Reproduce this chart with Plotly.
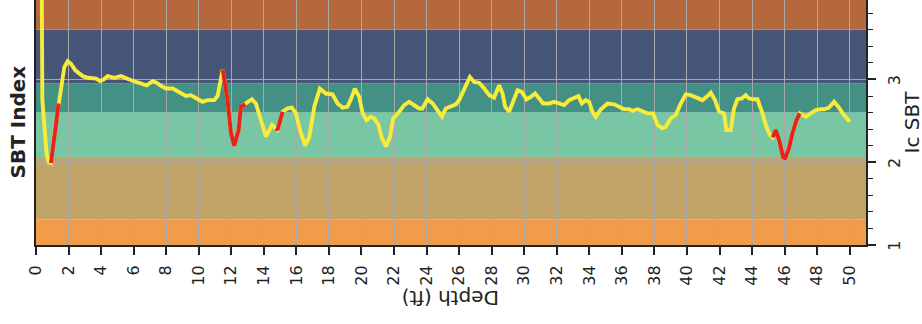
import plotly.graph_objects as go

depth = [0.34, 0.39, 0.55, 0.65, 0.78, 0.92, 1.13, 1.39, 1.74, 1.95, 2.15, 2.42, 2.87, 3.2, 3.48, 3.69, 3.93, 4.15, 4.4, 4.81,
         5.22, 5.53, 5.85, 6.14, 6.55, 6.8, 7.17, 7.41, 7.7, 7.99, 8.4, 8.8, 9.21, 9.52, 9.83, 10.24, 10.54, 10.95, 11.16, 11.47,
         11.77, 11.98, 12.18, 12.45, 12.59, 12.86, 12.95, 13.27, 13.51, 13.82, 14.13, 14.5, 14.75, 14.84, 15.15, 15.46, 15.72, 15.97, 16.22, 16.54,
         16.79, 17.1, 17.44, 17.81, 18.22, 18.53, 18.84, 19.14, 19.41, 19.59, 19.86, 20.07, 20.31, 20.58, 20.78, 21.05, 21.25, 21.5, 21.74, 21.95,
         22.32, 22.62, 22.93, 23.24, 23.54, 23.74, 24.06, 24.37, 24.67, 24.94, 25.18, 25.49, 25.8, 26.0, 26.37, 26.66, 26.92, 27.23, 27.54, 27.85,
         28.15, 28.46, 28.67, 28.83, 29.07, 29.32, 29.59, 29.85, 30.14, 30.41, 30.67, 30.92, 31.16, 31.53, 31.84, 32.14, 32.45, 32.76, 33.13, 33.33,
         33.54, 33.78, 33.99, 34.19, 34.4, 34.71, 35.12, 35.52, 35.83, 36.14, 36.44, 36.65, 36.96, 37.26, 37.57, 37.92, 38.19, 38.49, 38.7, 39.0,
         39.31, 39.62, 39.93, 40.23, 40.64, 40.95, 41.26, 41.46, 41.72, 41.97, 42.28, 42.42, 42.69, 42.89, 43.1, 43.37, 43.61, 43.81, 44.12, 44.33,
         44.64, 44.84, 45.09, 45.27, 45.45, 45.66, 45.91, 46.03, 46.27, 46.48, 46.73, 46.93, 47.3, 47.6, 47.91, 48.22, 48.43, 48.73, 49.04, 49.34,
         49.65, 50.0]
ic_sbt = [4.6, 2.75, 2.35, 2.1, 2.0, 1.99, 2.35, 2.71, 3.15, 3.22, 3.19, 3.11, 3.04, 3.02, 3.02, 3.01, 2.98, 3.0, 3.04, 3.02,
          3.04, 3.01, 2.99, 2.97, 2.95, 2.93, 2.98, 2.96, 2.92, 2.89, 2.89, 2.85, 2.80, 2.81, 2.77, 2.73, 2.75, 2.75, 2.80, 3.12,
          2.75, 2.35, 2.20, 2.39, 2.67, 2.70, 2.72, 2.76, 2.71, 2.51, 2.31, 2.45, 2.41, 2.39, 2.61, 2.65, 2.66, 2.59, 2.39, 2.20,
          2.30, 2.67, 2.89, 2.83, 2.82, 2.71, 2.66, 2.67, 2.79, 2.89, 2.79, 2.59, 2.51, 2.55, 2.53, 2.45, 2.29, 2.19, 2.30, 2.53,
          2.61, 2.69, 2.73, 2.69, 2.65, 2.65, 2.76, 2.71, 2.63, 2.55, 2.65, 2.67, 2.70, 2.75, 2.91, 3.03, 2.97, 2.96, 2.89, 2.81,
          2.78, 2.93, 2.83, 2.67, 2.61, 2.75, 2.87, 2.85, 2.76, 2.79, 2.83, 2.77, 2.71, 2.71, 2.73, 2.71, 2.69, 2.75, 2.79, 2.80,
          2.71, 2.75, 2.73, 2.61, 2.55, 2.64, 2.71, 2.70, 2.67, 2.64, 2.64, 2.62, 2.64, 2.61, 2.59, 2.59, 2.45, 2.41, 2.43, 2.53,
          2.57, 2.71, 2.82, 2.81, 2.77, 2.75, 2.80, 2.84, 2.75, 2.61, 2.59, 2.39, 2.39, 2.65, 2.76, 2.77, 2.81, 2.77, 2.76, 2.76,
          2.59, 2.45, 2.33, 2.30, 2.39, 2.27, 2.06, 2.05, 2.17, 2.35, 2.51, 2.59, 2.55, 2.59, 2.63, 2.64, 2.64, 2.66, 2.73, 2.66,
          2.57, 2.49]

red_ranges = [(0.92, 1.39), (11.47, 12.86), (14.75, 15.15), (45.27, 46.93)]

zone_bounds = [1.0, 1.31, 2.05, 2.6, 2.95, 3.6, 4.5]
zone_colors = ["#F09C4A", "#C2A468", "#78C6A3", "#439184", "#475678", "#B5683E"]

x_ticks = list(range(0, 51, 2))
y_ticks = [1, 2, 3, 4]

fig = go.Figure()

for i, c in enumerate(zone_colors):
    fig.add_shape(type="rect", xref="paper", yref="y", x0=0, x1=1,
                  y0=zone_bounds[i], y1=zone_bounds[i + 1],
                  fillcolor=c, line=dict(width=0), layer="below")

fig.add_trace(go.Scatter(x=depth, y=ic_sbt, mode="lines",
                         line=dict(color="#F7EC3B", width=3.9), showlegend=False, hoverinfo="skip"))

for a, b in red_ranges:
    xs = [d for d in depth if a <= d <= b]
    ys = [v for d, v in zip(depth, ic_sbt) if a <= d <= b]
    fig.add_trace(go.Scatter(x=xs, y=ys, mode="lines",
                             line=dict(color="#E8211E", width=3.9), showlegend=False, hoverinfo="skip"))

font_family = "DejaVu Sans"
fig.update_layout(
    width=922, height=324,
    margin=dict(l=36, r=56, t=0, b=79, autoexpand=False),
    paper_bgcolor="white", plot_bgcolor="white",
    font=dict(family=font_family, color="#222222"),
    xaxis=dict(range=[0, 51], tickvals=x_ticks, ticktext=[str(t) for t in x_ticks],
               tickangle=-90, tickfont=dict(size=16, family=font_family), automargin=False,
               ticks="outside", ticklen=8, tickwidth=1.5, tickcolor="#222222", ticklabelstandoff=4,
               showline=True, linecolor="#222222", linewidth=2,
               showgrid=True, gridcolor="#A8A8A8", gridwidth=1, zeroline=False),
    yaxis=dict(range=[1, 3.96], side="right", tickvals=y_ticks, ticktext=[str(t) for t in y_ticks],
               tickangle=-90, tickfont=dict(size=16, family=font_family), automargin=False,
               ticks="outside", ticklen=8, tickwidth=1.5, tickcolor="#222222",
               ticklabelstandoff=5, ticklabelshift=3,
               minor=dict(dtick=0.2, tick0=1, ticks="outside", ticklen=4.5, tickwidth=1.2,
                          tickcolor="#222222", showgrid=False),
               showline=True, mirror=True, linecolor="#222222", linewidth=2,
               showgrid=True, gridcolor="#A8A8A8", gridwidth=1, zeroline=False),
    annotations=[
        dict(text="Depth (ft)", xref="paper", yref="paper", x=0.5, y=0.0, yshift=-53,
             xanchor="center", yanchor="middle",
             showarrow=False, textangle=180, font=dict(size=20, family=font_family, color="#222222")),
        dict(text="<b>SBT Index</b>", xref="paper", yref="paper", x=0, y=0.5, xshift=-19,
             xanchor="center", yanchor="middle",
             showarrow=False, textangle=-90, font=dict(size=20, family=font_family, color="#222222")),
        dict(text="Ic SBT", xref="paper", yref="paper", x=1, y=0.5, xshift=45,
             xanchor="center", yanchor="middle",
             showarrow=False, textangle=-90, font=dict(size=20, family=font_family, color="#222222")),
    ],
)

fig.write_html("out.html", config={"displayModeBar": False},
               post_script="document.body.style.margin='0';document.body.style.padding='0';")
